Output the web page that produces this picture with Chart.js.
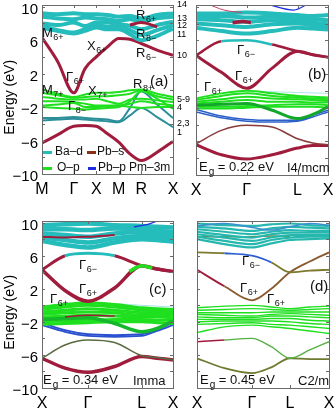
<!DOCTYPE html>
<html><head><meta charset="utf-8">
<script src="https://cdn.jsdelivr.net/npm/chart.js@4.4.1/dist/chart.umd.min.js"></script>
<style>
html,body{margin:0;padding:0;background:#fff;overflow:hidden;width:334px;height:412px}
#wrap{position:relative;width:334px;height:412px;overflow:hidden;background:#fff}
canvas{position:absolute}
.t{position:absolute;font-family:'Liberation Sans',Arial,sans-serif;color:#111;white-space:nowrap;line-height:1;font-size:13px}
.t .s{font-size:9px;position:relative;top:3px;margin-left:0.5px}
.t .g{font-size:10px;position:relative;top:4px;margin-left:1px}
.sw{position:absolute;height:3px}
</style></head><body><div id="wrap">
<canvas id="ca" width="182" height="200" style="left:0;top:0"></canvas>
<canvas id="cc" width="182" height="207" style="left:0;top:205px"></canvas>
<canvas id="cb" width="160" height="200" style="left:177px;top:0"></canvas>
<canvas id="cd" width="160" height="207" style="left:177px;top:205px"></canvas>

<!-- panel (a) annotations -->
<div class="t" style="left:42px;top:26px">M<span class="s">6+</span></div>
<div class="t" style="left:87px;top:39px">X<span class="s">6+</span></div>
<div class="t" style="left:136px;top:8px">R<span class="s">6+</span></div>
<div class="t" style="left:136px;top:27px">R<span class="s">8−</span></div>
<div class="t" style="left:136px;top:46px">R<span class="s">6−</span></div>
<div class="t" style="left:150px;top:73px;font-size:15px">(a)</div>
<div class="t" style="left:66px;top:70px">Γ<span class="s">6+</span></div>
<div class="t" style="left:42px;top:83px">M<span class="s">7+</span></div>
<div class="t" style="left:88px;top:84px">X<span class="s">7+</span></div>
<div class="t" style="left:133px;top:77px">R<span class="s">8+</span></div>
<div class="t" style="left:68px;top:99px">Γ<span class="s">8−</span></div>
<div class="sw" style="left:43px;top:151px;width:9px;background:#25bcbc"></div>
<div class="t" style="left:55px;top:145px;font-size:12px">Ba–d</div>
<div class="sw" style="left:87px;top:151px;width:9px;background:#8a3018"></div>
<div class="t" style="left:97px;top:145px;font-size:12px">Pb–s</div>
<div class="sw" style="left:43px;top:167px;width:9px;background:#1ee01e"></div>
<div class="t" style="left:57px;top:161px;font-size:12px">O–p</div>
<div class="sw" style="left:88px;top:167px;width:8px;background:#1a2ee0"></div>
<div class="t" style="left:98px;top:161px;font-size:12px">Pb–p</div>
<div class="t" style="left:129px;top:161px;font-size:12px">Pm–3m</div>

<!-- panel (b) annotations -->
<div class="t" style="left:237px;top:43px">Γ<span class="s">6−</span></div>
<div class="t" style="left:235px;top:69px">Γ<span class="s">6+</span></div>
<div class="t" style="left:204px;top:80px">Γ<span class="s">6+</span></div>
<div class="t" style="left:308px;top:66px;font-size:15px">(b)</div>
<div class="t" style="left:199px;top:160px">E<span class="g">g</span> = 0.22 eV</div>
<div class="t" style="left:287px;top:161px">I4/mcm</div>

<!-- panel (c) annotations -->
<div class="t" style="left:79px;top:258px">Γ<span class="s">6−</span></div>
<div class="t" style="left:79px;top:282px">Γ<span class="s">6+</span></div>
<div class="t" style="left:50px;top:292px">Γ<span class="s">6+</span></div>
<div class="t" style="left:149px;top:281px;font-size:15px">(c)</div>
<div class="t" style="left:43px;top:373px">E<span class="g">g</span> = 0.34 eV</div>
<div class="t" style="left:133px;top:374px">Imma</div>

<!-- panel (d) annotations -->
<div class="t" style="left:242px;top:254px">Γ<span class="s">6−</span></div>
<div class="t" style="left:240px;top:281px">Γ<span class="s">6+</span></div>
<div class="t" style="left:267px;top:292px">Γ<span class="s">6+</span></div>
<div class="t" style="left:310px;top:278px;font-size:15px">(d)</div>
<div class="t" style="left:200px;top:373px">E<span class="g">g</span> = 0.45 eV</div>
<div class="t" style="left:298px;top:374px">C2/m</div>
</div>
<script>
// ---------------- data ----------------
// k-paths (position along path) and high-symmetry tick labels
const kA = [0, 0.707, 1.414, 1.914, 2.414, 2.914, 3.414, 3.914, 4.414, 5.121, 5.828];
const kTickA = [0, 1.414, 2.414, 3.414, 4.414, 5.828];
const kLabA = ['M', 'Γ', 'X', 'M', 'R', 'X'];
const kB = [0, 0.5, 1, 1.5, 2, 2.3, 2.6];
const kTickB = [0, 1, 2, 2.6];
const kLabB = ['X', 'Γ', 'L', 'X'];
const kC = [0, 0.5, 1, 1.58, 2.17, 2.5, 2.85];
const kTickC = [0, 1, 2.17, 2.85];
const kLabC = ['X', 'Γ', 'L', 'X'];
const kD = [0, 0.5, 1, 1.35, 1.69, 2.05, 2.4];
const kTickD = [0, 1, 1.69, 2.4];
const kLabD = ['X', 'Γ', 'L', 'X'];

const energyLabelVals = [-10, -6, -2, 2, 6, 10];
const energyLabels = ['−10', '−6', '−2', '2', '6', '10'];
const energyMinor = [-10, -8, -6, -4, -2, 0, 2, 4, 6, 8, 10];
const bandNumVals = [10.2, 8.6, 7.8, 6.7, 4.2, -1.0, -2.0, -3.9, -5.0];
const bandNumLabels = ['14', '13', '12', '11', '10', '5-9', '4', '2,3', '1'];

// Panel (a) Pm-3m
const aBaD = [
  [9.2, 9.1, 9.2, 9.1, 9.1, 9.0, 8.8, 8.9, 8.6, 9.0, 9.2],
  [8.8, 8.6, 8.5, 8.7, 8.6, 8.5, 8.3, 8.5, 8.2, 8.6, 8.8],
  [8.0, 7.8, 8.1, 7.7, 8.1, 8.1, 7.9, 7.7, 7.3, 7.8, 8.2],
  [7.7, 7.2, 6.9, 7.3, 7.8, 7.6, 7.6, 7.2, 6.6, 7.2, 7.8],
  [7.5, 7.1, 6.8, 7.1, 7.5, 7.3, 7.3, 6.7, 6.0, 6.5, 7.4]
];
const aPbsHigh = [null, null, null, null, null, null, null, 7.8, 8.1, 7.6, null];
const aPbsCond = [6.3, 3.4, -0.3, 2.6, 4.0, 5.2, 6.2, 6.1, 5.6, 4.8, 4.2];
const aOp = [
  [0.1, -0.4, -0.8, -0.5, -0.3, -0.3, -0.2, 0.0, 0.1, -0.4, -0.8],
  [-0.3, -0.6, -0.9, -0.8, -0.7, -0.7, -0.6, -0.4, 0.0, -0.7, -1.1],
  [-0.8, -1.0, -1.1, -1.1, -1.0, -1.3, -1.6, -1.1, -1.0, -1.2, -1.4],
  [-1.3, -1.3, -1.4, -1.6, -1.8, -1.8, -1.8, -1.6, -1.3, -1.6, -1.8],
  [-1.8, -1.7, -1.5, -2.0, -2.0, -1.9, -1.8, -2.0, -2.1, -2.0, -2.0],
  [-2.0, -2.1, -2.2, -2.3, -2.2, -2.1, -2.0, -1.3, -0.1, -1.0, -2.2]
];
const aMixed = [
  [-3.3, -3.3, -3.2, -3.3, -3.4, -3.5, -3.7, -2.1, -0.1, -1.7, -3.3],
  [-3.6, -3.5, -3.4, -3.5, -3.6, -3.7, -3.8, -3.0, -2.1, -3.2, -4.4]
];
const aPbsLow = [-6.3, -5.3, -4.3, -4.2, -4.3, -5.2, -6.2, -7.6, -8.4, -7.4, -6.1];

// Panel (b) I4/mcm
const bBaD = [
  [9.2, 9.2, 9.3, 9.2, 9.0, 8.9, 9.0],
  [8.8, 8.9, 8.7, 8.8, 8.6, 8.5, 8.4],
  [8.5, 8.4, 8.2, 8.4, 8.3, 8.1, 7.9],
  [8.0, 7.8, 7.6, 7.9, 8.0, 7.8, 7.6],
  [7.5, 7.1, 6.8, 7.1, 7.5, 7.4, 7.3]
];
const kBcap = [0.72, 0.92, 1.08];
const bPbsCap = [8.1, 8.25, 8.1];
const kBtopP = [1.4, 1.93, 2.2];
const bPbpTop = [10.3, 9.6, 10.3];
const kBtopS = [0.2, 0.55, 0.9];
const bPbsTop = [10.4, 9.6, 9.3];
const bPbsUpper = [4.2, 5.9, 6.0, 5.5, 4.7, 4.3, 4.0];
const bPbsLower = [4.2, 2.2, 0.3, 2.7, 4.7, 4.3, 4.0];
const bOp = [
  [-0.9, -0.3, 0.0, -0.3, -0.6, -0.7, -0.8],
  [-1.1, -0.6, -0.3, -0.6, -0.8, -0.9, -1.0],
  [-1.3, -1.0, -0.7, -0.9, -1.0, -1.1, -1.2],
  [-1.5, -1.3, -1.1, -1.3, -1.3, -1.4, -1.4],
  [-1.9, -1.9, -1.8, -1.7, -1.6, -1.6, -1.7],
  [-2.1, -2.1, -2.0, -1.9, -1.9, -1.9, -2.0]
];
const bOpDip = [-1.7, -1.6, -1.5, -2.3, -3.3, -2.8, -1.9];
const bPale = [null, null, 0.0, -0.1, -0.2, -0.25, -0.3];
const bPbp = [
  [-2.2, -3.0, -3.4, -3.5, -3.5, -2.9, -2.3],
  [-2.5, -3.2, -3.6, -3.7, -3.6, -3.1, -2.5]
];
const bMid = [-6.3, -4.7, -4.1, -4.3, -5.7, -6.2, -6.4];
const bPbsLow = [-6.4, -7.6, -8.1, -7.6, -6.8, -6.5, -6.5];

// Panel (c) Imma
const cBaD = [
  [9.7, 9.8, 9.9, 9.7, 9.6, 9.5, 9.4],
  [9.2, 9.2, 9.1, 9.3, 9.2, 9.0, 8.9],
  [8.7, 8.5, 8.3, 8.7, 8.9, 8.7, 8.5],
  [8.2, 7.9, 7.6, 8.1, 8.4, 8.3, 8.1],
  [7.8, 7.3, 7.0, 7.6, 8.0, 7.9, 7.7]
];
const cPbsIn = [8.3, 8.2, 8.3, 8.5, null, null, null];
const kCtop = [2.0, 2.3, 2.6];
const cPbpTop = [9.5, 9.8, 10.4];
const cPbsUpper = [4.3, 6.0, 6.3, 6.0, 4.8, 4.4, 4.1];
const cPbsLower = [4.3, 1.8, 0.5, 2.1, 4.8, 4.4, 4.1];
const kCL = [1.9, 2.17, 2.4];
const cOpL = [4.1, 4.8, 4.5];
const cOp = [
  [-0.2, 0.1, 0.3, 0.1, -0.3, -0.4, -0.5],
  [-0.5, -0.2, 0.0, -0.2, -0.6, -0.7, -0.8],
  [-0.8, -0.6, -0.4, -0.6, -0.9, -1.0, -1.0],
  [-1.1, -0.9, -0.8, -0.9, -1.2, -1.2, -1.2],
  [-1.4, -1.3, -1.2, -1.3, -1.4, -1.4, -1.5],
  [-2.0, -1.9, -1.8, -1.7, -1.7, -1.8, -1.8],
  [-2.3, -2.2, -2.1, -2.0, -2.0, -2.1, -2.2]
];
const cOpDip = [-1.7, -1.6, -1.5, -2.2, -3.2, -2.8, -1.9];
const cPbsMidVB = [null, -1.4, -1.2, -1.3, null, null, null];
const cPale = [null, null, 0.3, 0.2, 0.0, -0.1, -0.2];
const cPbp = [
  [-2.1, -3.0, -3.5, -3.6, -3.5, -2.9, -2.1],
  [-2.4, -3.2, -3.7, -3.8, -3.7, -3.1, -2.4]
];
const cMid = [-6.4, -4.8, -4.2, -4.5, -6.1, -6.3, -6.6];
const cPbsLow = [-6.4, -7.6, -8.1, -7.4, -6.2, -6.4, -6.6];

// Panel (d) C2/m
const dBaD = [
  [9.9, 9.7, 9.6, 9.8, 9.9, 9.7, 9.6],
  [9.5, 9.3, 9.0, 9.3, 9.5, 9.4, 9.3],
  [9.2, 8.9, 8.6, 8.9, 9.1, 9.0, 9.0],
  [8.9, 8.5, 8.2, 8.6, 8.8, 8.8, 8.8],
  [8.6, 8.2, 7.8, 8.2, 8.5, 8.5, 8.5],
  [8.3, 7.8, 7.4, 7.9, 8.2, 8.3, 8.3],
  [8.0, 7.4, 7.0, 7.5, 7.9, 8.0, 8.1]
];
const dPbpTop = [9.6, 9.9, 9.4, 9.1, 9.5, 9.9, 9.7];
const dOlive = [8.3, 8.3, 8.3, 8.4, 8.3, null, null];
const dCondUpper = [6.4, 6.3, 6.0, 5.2, 4.0, 4.2, 4.3];
const dCondLower = [4.3, 2.3, 0.6, 2.0, 4.0, 5.3, 6.4];
const dOp = [
  [-0.3, -0.1, 0.0, -0.2, -0.4, -0.2, -0.1],
  [-0.6, -0.5, -0.4, -0.5, -0.6, -0.5, -0.4],
  [-0.9, -0.9, -0.9, -0.8, -0.8, -0.8, -0.8],
  [-1.1, -1.2, -1.3, -1.1, -1.0, -1.1, -1.2],
  [-1.4, -1.5, -1.5, -1.3, -1.3, -1.4, -1.5],
  [-1.7, -1.7, -1.7, -1.6, -1.6, -1.8, -1.9],
  [-2.0, -1.9, -1.9, -1.9, -2.0, -2.2, -2.3],
  [-2.3, -2.2, -2.1, -2.3, -2.4, -2.6, -2.8],
  [-3.3, -2.6, -2.4, -2.6, -2.8, -3.1, -3.4]
];
const dMid = [-4.4, -4.2, -4.0, -5.0, -6.4, -5.4, -4.4];
const dLow = [-6.4, -7.6, -8.2, -7.5, -6.4, -6.5, -6.5];

// ---------------- styling / drawing ----------------
const FONT = "'Liberation Sans', Arial, sans-serif";
const CYAN = '#25bcbc', RED = '#a01c3c', GREEN = '#1ee01e', BLUE = '#1a2ee0', TEAL = '#2b8f9a', OLIVE = '#7d7a30';

function band(k, vals, color, width, extra) {
  return Object.assign({
    data: vals.map((v, i) => ({x: k[i], y: v})),
    borderColor: color, borderWidth: width, pointRadius: 0, fill: false,
    cubicInterpolationMode: 'monotone', spanGaps: false
  }, extra || {});
}
function segColor(lo, hi, col) {
  return {segment: {borderColor: c => (c.p0.parsed.x >= lo - 1e-6 && c.p1.parsed.x <= hi + 1e-6) ? col : undefined}};
}

const frameTicks = {
  id: 'frameTicks',
  afterDraw(chart, args, o) {
    const {ctx, chartArea: a, scales: {x, y}} = chart;
    ctx.save();
    ctx.strokeStyle = '#6a6a6a'; ctx.lineWidth = 1;
    ctx.strokeRect(Math.round(a.left) + 0.5, Math.round(a.top) + 0.5, Math.round(a.right - a.left), Math.round(a.bottom - a.top));
    ctx.beginPath();
    (o.xt || []).forEach(v => {
      const px = Math.round(x.getPixelForValue(v)) + 0.5;
      ctx.moveTo(px, a.bottom); ctx.lineTo(px, a.bottom - 3);
      ctx.moveTo(px, a.top); ctx.lineTo(px, a.top + 3);
    });
    (o.yt || []).forEach(v => {
      const py = Math.round(y.getPixelForValue(v)) + 0.5;
      ctx.moveTo(a.left, py); ctx.lineTo(a.left + 3, py);
      ctx.moveTo(a.right, py); ctx.lineTo(a.right - 3, py);
    });
    ctx.stroke();
    ctx.restore();
  }
};

function makeChart(id, c) {
  return new Chart(document.getElementById(id), {
    type: 'line',
    data: {datasets: c.ds},
    options: {
      responsive: false, animation: false, events: [], devicePixelRatio: 1,
      layout: {padding: c.pad},
      plugins: {legend: {display: false}, tooltip: {enabled: false}, frameTicks: {xt: c.kt, yt: energyMinor}},
      scales: {
        x: {
          type: 'linear', min: 0, max: c.kt[c.kt.length - 1],
          grid: {display: false, drawTicks: false}, border: {display: false},
          afterBuildTicks: s => { s.ticks = c.kt.map(v => ({value: v})); },
          afterFit: s => { s.height = c.xH; s.paddingLeft = 0; s.paddingRight = 0; },
          ticks: {autoSkip: false, maxRotation: 0, minRotation: 0, padding: 6, color: '#000',
                  font: {family: FONT, size: 16}, callback: (v, i) => c.kl[i]}
        },
        y: {
          type: 'linear', min: -10, max: 10.2,
          grid: {display: false, drawTicks: false}, border: {display: false},
          afterBuildTicks: s => { s.ticks = c.ylv.map(v => ({value: v})); },
          afterFit: s => { s.width = c.yW; s.paddingTop = 0; s.paddingBottom = 0; },
          title: c.title ? {display: true, text: 'Energy (eV)    ', color: '#000', padding: {top: 2, bottom: 0},
                            font: {family: FONT, size: 14}} : {display: false},
          ticks: {display: c.ylv.length > 0, autoSkip: false, padding: 4, labelOffset: c.ylOff,
                  crossAlign: c.cross, color: '#000', font: {family: FONT, size: c.yFont},
                  callback: (v, i) => c.yll[i]}
        }
      }
    },
    plugins: [frameTicks]
  });
}

// panel (a)
const dsA = [];
dsA.push(band(kA, aPbsHigh, RED, 3));
aBaD.forEach(b => dsA.push(band(kA, b, CYAN, 4)));
dsA.push(band(kA, aPbsCond, RED, 3));
aOp.forEach(b => dsA.push(band(kA, b, GREEN, 2)));
aMixed.forEach(b => dsA.push(band(kA, b, TEAL, 2)));
dsA.push(band(kA, aPbsLow, RED, 3));
makeChart('ca', {ds: dsA, kt: kTickA, kl: kLabA, ylv: energyLabelVals, yll: energyLabels, ylOff: 3,
  yW: 42, xH: 26, pad: {top: 5, right: 9, left: 0, bottom: 0}, yFont: 15, cross: 'near', title: true});

// panel (b)
const dsB = [];
dsB.push(band(kBtopP, bPbpTop, BLUE, 1.2));
dsB.push(band(kBtopS, bPbsTop, '#d04060', 1));
dsB.push(band(kBcap, bPbsCap, RED, 3.5));
bBaD.forEach(b => dsB.push(band(kB, b, CYAN, 4)));
dsB.push(band(kB, bPbsUpper, RED, 2.5, segColor(0.5, 1.5, CYAN)));
dsB.push(band(kB, bPbsLower, RED, 3));
dsB.push(band(kB, bOpDip, '#14a82a', 3));
bOp.forEach(b => dsB.push(band(kB, b, GREEN, 2)));
dsB.push(band(kB, bPale, '#a8e4e4', 1));
bPbp.forEach(b => dsB.push(band(kB, b, '#2a60c8', 1.5)));
dsB.push(band(kB, bMid, '#8a3a3a', 1.5));
dsB.push(band(kB, bPbsLow, RED, 3));
makeChart('cb', {ds: dsB, kt: kTickB, kl: kLabB, ylv: bandNumVals, yll: bandNumLabels, ylOff: 0,
  yW: 19, xH: 25, pad: {top: 5, right: 9, left: 0, bottom: 0}, yFont: 9, cross: 'far', title: false});

// panel (c)
const dsC = [];
dsC.push(band(kCtop, cPbpTop, BLUE, 1.2));
dsC.push(band(kC, cPbsIn, RED, 2));
cBaD.forEach(b => dsC.push(band(kC, b, CYAN, 4.5)));
dsC.push(band(kCL, cOpL, GREEN, 3.5));
dsC.push(band(kC, cPbsUpper, RED, 3, segColor(0.5, 1.58, CYAN)));
dsC.push(band(kC, cPbsLower, RED, 3.5));
dsC.push(band(kC, cPbsMidVB, RED, 1.5));
dsC.push(band(kC, cOpDip, '#14b82a', 3.5));
cOp.forEach(b => dsC.push(band(kC, b, GREEN, 3)));
dsC.push(band(kC, cPale, '#a8e4e4', 1));
cPbp.forEach(b => dsC.push(band(kC, b, '#2a50d0', 1.8)));
dsC.push(band(kC, cMid, '#5a6a40', 1.5));
dsC.push(band(kC, cPbsLow, RED, 3.5));
makeChart('cc', {ds: dsC, kt: kTickC, kl: kLabC, ylv: energyLabelVals, yll: energyLabels, ylOff: 3,
  yW: 42, xH: 24, pad: {top: 16, right: 9, left: 0, bottom: 0}, yFont: 15, cross: 'near', title: true});

// panel (d)
const dsD = [];
dsD.push(band(kD, dPbpTop, '#3a8fd0', 1.5));
dBaD.forEach(b => dsD.push(band(kD, b, '#26b8ae', 2.2)));
dsD.push(band(kD, dOlive, OLIVE, 1.5));
dsD.push(band(kD, dCondUpper, OLIVE, 1.8, segColor(0.5, 1.35, '#3060d0')));
dsD.push(band(kD, dCondLower, '#8a5a30', 1.8, segColor(0, 0.5, RED)));
dOp.forEach(b => dsD.push(band(kD, b, GREEN, 1.4)));
dsD.push(band(kD, dMid, '#55b040', 1.4, segColor(0, 0.5, RED)));
dsD.push(band(kD, dLow, '#6f7a30', 1.8));
makeChart('cd', {ds: dsD, kt: kTickD, kl: kLabD, ylv: [], yll: [], ylOff: 0,
  yW: 20, xH: 24, pad: {top: 16, right: 8, left: 0, bottom: 0}, yFont: 9, cross: 'near', title: false});
</script>
</body></html>
